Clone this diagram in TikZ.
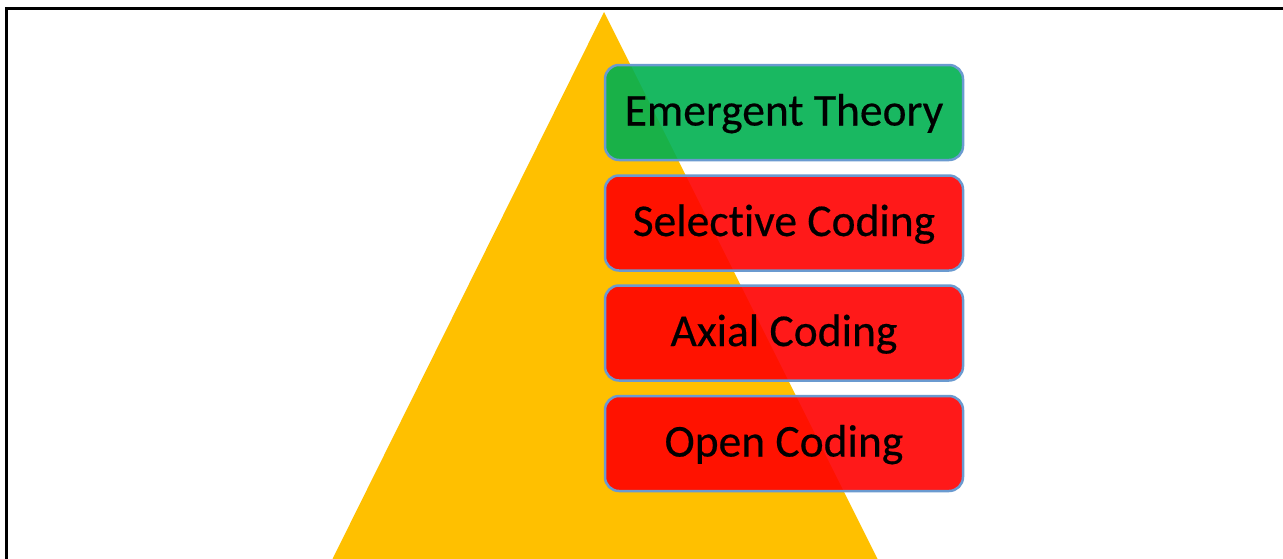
\documentclass[tikz,border=0pt]{standalone}
\usepackage{fontspec}
\setmainfont[Ligatures={NoCommon,NoRequired,NoContextual},FakeBold=0.4]{Carlito}
\definecolor{pyramid}{HTML}{FFC000}
\definecolor{stagegreen}{HTML}{00B050}
\definecolor{stagered}{HTML}{FF0000}
\definecolor{stageedge}{HTML}{6A9AD0}
\begin{document}
\begin{tikzpicture}[x=1pt,y=-1pt,
  stagebox/.style={draw=stageedge, line width=2.5pt, rounded corners=14pt,
    minimum width=358pt, minimum height=95pt, inner sep=0pt,
    text height=33pt, text depth=7pt,
    fill opacity=0.9, text opacity=1, font=\fontsize{45.5}{50}\selectfont, text=black}]
\useasboundingbox (0,0) rectangle (1283,558);
\begin{scope}
\clip (0,0) rectangle (1283,558);
% pyramid
\fill[pyramid] (604,12) -- (878,560) -- (332,560) -- cycle;
% frame
\draw[line width=3pt] (6,560) -- (6,8) -- (1285,8);
\end{scope}
% stages
\node[stagebox, fill=stagegreen] (theory) at (784,112.5) {Emergent Theory};
\node[stagebox, fill=stagered] (selective) at (784,223) {Selective Coding};
\node[stagebox, fill=stagered] (axial) at (784,333) {Axial Coding};
\node[stagebox, fill=stagered] (open) at (784,443.5) {Open Coding};
\end{tikzpicture}
\end{document}
